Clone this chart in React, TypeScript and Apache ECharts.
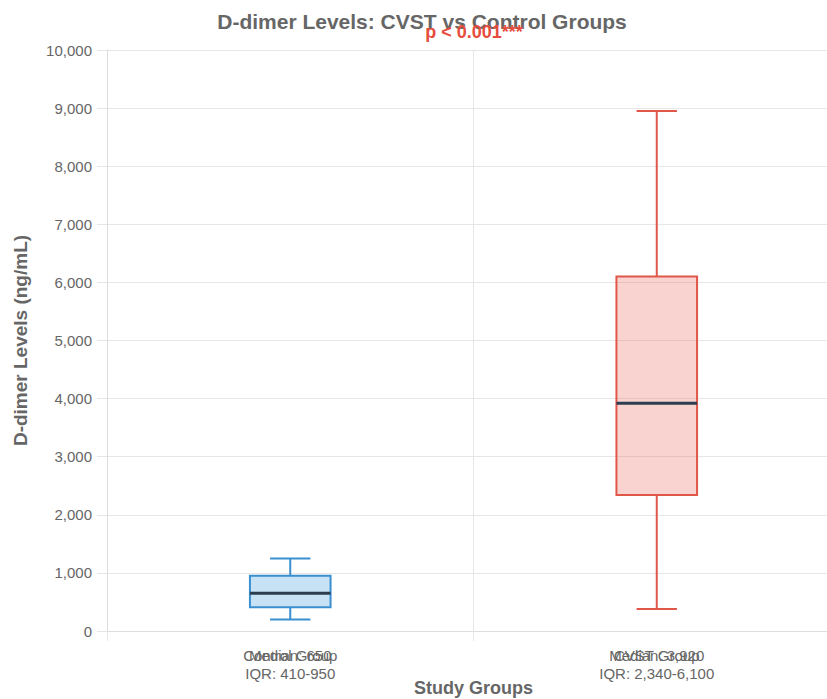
import React, { useEffect, useRef } from "react";
import * as echarts from "echarts";

const categories = ["Control Group", "CVST Group"];
const mins = [200, 380];
const q1s = [410, 2340];
const medians = [650, 3920];
const q3s = [950, 6100];
const maxs = [1250, 8950];
const statLabels = ["Median: 650\nIQR: 410-950", "Median: 3,920\nIQR: 2,340-6,100"];
const yTicks = { min: 0, max: 10000, interval: 1000 };

const strokeColors = ["#3a8fd0", "#e0574a"];
const fillColors = ["rgba(58,150,220,0.28)", "rgba(231,86,70,0.26)"];
const FONT = "'Liberation Sans', Arial, Helvetica, sans-serif";

export default function App() {
  const ref = useRef<HTMLDivElement>(null);
  useEffect(() => {
    document.body.style.margin = "0";
    const chart = echarts.init(ref.current!, null, { renderer: "svg" });
    const data = categories.map((_, i) => [i, mins[i], q1s[i], medians[i], q3s[i], maxs[i]]);
    chart.setOption({
      animation: false,
      textStyle: { fontFamily: FONT },
      grid: {
        left: 107,
        right: -13,
        top: 50,
        bottom: 68,
        containLabel: false,
        outerBoundsMode: "none",
      },
      graphic: [
        {
          type: "text",
          x: 422,
          y: 21,
          style: {
            text: "D-dimer Levels: CVST vs Control Groups",
            fill: "#666",
            font: `bold 21px ${FONT}`,
            textAlign: "center",
            textVerticalAlign: "middle",
          },
        },
        {
          type: "text",
          x: 474,
          y: 32,
          style: {
            text: "p < 0.001***",
            fill: "#e74c3c",
            font: `bold 18px ${FONT}`,
            textAlign: "center",
            textVerticalAlign: "middle",
          },
        },
      ],
      xAxis: [
        {
          type: "category",
          data: categories,
          position: "bottom",
          boundaryGap: true,
          name: "Study Groups",
          nameLocation: "middle",
          nameGap: 48,
          nameTextStyle: { color: "#666", fontSize: 18, fontWeight: "bold" },
          axisLine: { show: true, lineStyle: { color: "#ddd", width: 1 } },
          axisTick: { show: true, length: 10, lineStyle: { color: "#e6e6e6" } },
          splitLine: { show: true, lineStyle: { color: "#e6e6e6" } },
          axisLabel: { color: "#666", fontSize: 15, margin: 15, lineHeight: 18, verticalAlign: "top" },
        },
        {
          type: "category",
          data: statLabels,
          position: "bottom",
          gridIndex: 0,
          axisLine: { show: false },
          axisTick: { show: false },
          splitLine: { show: false },
          axisLabel: { color: "#666", fontSize: 15, margin: 15, lineHeight: 18, verticalAlign: "top" },
        },
      ],
      yAxis: {
        type: "value",
        min: yTicks.min,
        max: yTicks.max,
        interval: yTicks.interval,
        name: "D-dimer Levels (ng/mL)",
        nameLocation: "middle",
        nameGap: 77,
        nameTextStyle: { color: "#666", fontSize: 19, fontWeight: "bold" },
        axisLine: { show: true, lineStyle: { color: "#ddd" } },
        axisTick: { show: true, length: 10, lineStyle: { color: "#e6e6e6" } },
        splitLine: { show: true, lineStyle: { color: "#e6e6e6" } },
        axisLabel: {
          color: "#666",
          fontSize: 15,
          margin: 15,
          formatter: (v: number) => v.toLocaleString("en-US"),
        },
      },
      series: [
        {
          type: "custom",
          xAxisIndex: 0,
          yAxisIndex: 0,
          data,
          encode: { x: 0, y: [1, 2, 3, 4, 5] },
          renderItem: (params: any, api: any) => {
            const i = params.dataIndex;
            const x = api.value(0);
            const pMin = api.coord([x, api.value(1)]);
            const pQ1 = api.coord([x, api.value(2)]);
            const pMed = api.coord([x, api.value(3)]);
            const pQ3 = api.coord([x, api.value(4)]);
            const pMax = api.coord([x, api.value(5)]);
            const bandW = api.size([1, 0])[0];
            const boxW = bandW * 0.22;
            const capW = boxW / 2;
            const cx = pMed[0];
            const stroke = strokeColors[i];
            const lineStyle = { stroke, lineWidth: 2 };
            return {
              type: "group",
              children: [
                { type: "line", shape: { x1: cx, y1: pMax[1], x2: cx, y2: pQ3[1] }, style: lineStyle },
                { type: "line", shape: { x1: cx, y1: pQ1[1], x2: cx, y2: pMin[1] }, style: lineStyle },
                { type: "line", shape: { x1: cx - capW / 2, y1: pMax[1], x2: cx + capW / 2, y2: pMax[1] }, style: lineStyle },
                { type: "line", shape: { x1: cx - capW / 2, y1: pMin[1], x2: cx + capW / 2, y2: pMin[1] }, style: lineStyle },
                {
                  type: "rect",
                  shape: { x: cx - boxW / 2, y: pQ3[1], width: boxW, height: pQ1[1] - pQ3[1] },
                  style: { fill: fillColors[i], stroke, lineWidth: 2 },
                },
                {
                  type: "line",
                  shape: { x1: cx - boxW / 2, y1: pMed[1], x2: cx + boxW / 2, y2: pMed[1] },
                  style: { stroke: "#2c3e50", lineWidth: 3 },
                },
              ],
            };
          },
        },
      ],
    });
    return () => chart.dispose();
  }, []);
  return <div ref={ref} style={{ width: 827, height: 699, overflow: "hidden" }} />;
}
